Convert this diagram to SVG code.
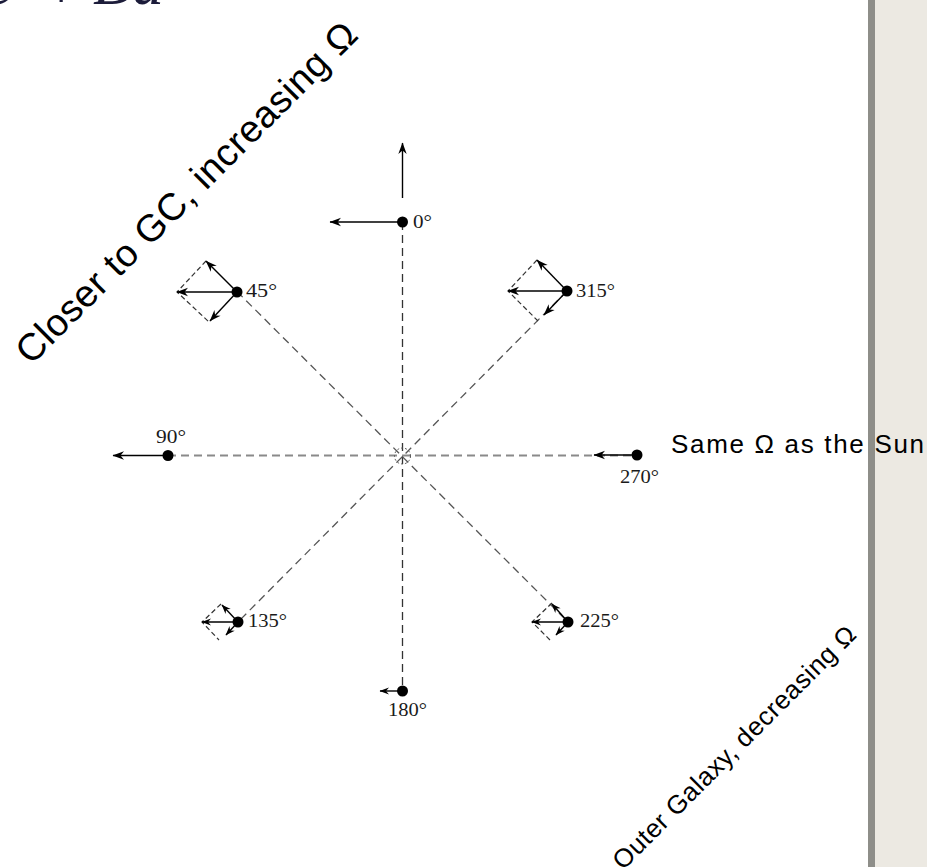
<svg xmlns="http://www.w3.org/2000/svg" width="927" height="867" viewBox="0 0 927 867">
  <defs>
    <marker id="ah" markerUnits="userSpaceOnUse" markerWidth="14" markerHeight="10" refX="0" refY="0" viewBox="-13 -5 14 10" orient="auto">
      <path d="M0.5,0 L-11,-4.2 L-7.5,0 L-11,4.2 Z" fill="#000"/>
    </marker>
    <marker id="ahs" markerUnits="userSpaceOnUse" markerWidth="12" markerHeight="9" refX="0" refY="0" viewBox="-11 -4.5 12 9" orient="auto">
      <path d="M0.5,0 L-9,-3.6 L-6,0 L-9,3.6 Z" fill="#000"/>
    </marker>
  </defs>
  <style>
    .vec { stroke: #000; stroke-width: 1.4; fill: none; marker-end: url(#ah); }
    .vecs { stroke: #000; stroke-width: 1.4; fill: none; marker-end: url(#ahs); }
    .dia { stroke: #333; stroke-width: 1.2; fill: none; stroke-dasharray: 5 3; }
    .dot { fill: #000; }
    .lab { font-family: "Liberation Serif", "Times New Roman", serif; font-size: 18px; fill: #1a1a1a; }
    .big { font-family: "Liberation Sans", Arial, sans-serif; fill: #000; }
    .axv { stroke: #333; stroke-width: 1.3; stroke-dasharray: 8 5; fill: none; }
    .axd { stroke: #555; stroke-width: 1.3; stroke-dasharray: 8 5; fill: none; }
    .axh { stroke: #8a8a8a; stroke-width: 1.8; stroke-dasharray: 8 5; fill: none; }
    .eq { font-family: "Liberation Serif", "Times New Roman", serif; font-style: italic; font-size: 64px; fill: #1c1c3a; }
  </style>

  <rect x="0" y="0" width="927" height="867" fill="#fff"/>
  <!-- right side panel -->
  <rect x="875" y="0" width="52" height="867" fill="#ece9e2"/>
  <rect x="868" y="0" width="7" height="867" fill="#8e8e89"/>

  <!-- cut-off equation at top -->
  <g id="equation">
    <text class="eq" x="-16" y="4">e</text>
    <text class="eq" x="39" y="9" font-style="normal">+</text>
    <text class="eq" x="93" y="4">Bd</text>
  </g>

  <!-- connectors -->
  <g id="connectors">
    <line class="axv" x1="402.5" y1="222" x2="402.5" y2="691"/>
    <line class="axh" x1="168" y1="455.5" x2="637" y2="455.5"/>
    <line class="axd" x1="237" y1="291.5" x2="568" y2="622"/>
    <line class="axd" x1="567" y1="291" x2="238" y2="622"/>
    <circle cx="402.5" cy="456" r="8" fill="none" stroke="#555" stroke-width="1" stroke-dasharray="2 2"/>
  </g>

  <g id="node-0">
    <line class="vec" x1="402.5" y1="198" x2="402.5" y2="143"/>
    <line class="vec" x1="402.5" y1="222" x2="330" y2="222"/>
    <circle class="dot" cx="402.5" cy="222" r="5.5"/>
    <text class="lab" x="413" y="228" textLength="19" lengthAdjust="spacingAndGlyphs">0°</text>
  </g>

  <g id="node-45">
    <polyline class="dia" points="206,261 177,292 209,322"/>
    <line class="vec" x1="237" y1="292" x2="177" y2="292"/>
    <line class="vec" x1="237" y1="292" x2="206" y2="261"/>
    <line class="vec" x1="237" y1="292" x2="210" y2="321"/>
    <circle class="dot" cx="237" cy="292" r="5.5"/>
    <text class="lab" x="246" y="297" textLength="31" lengthAdjust="spacingAndGlyphs">45°</text>
  </g>

  <g id="node-315">
    <polyline class="dia" points="537,260 508,291 538,321"/>
    <line class="vec" x1="567" y1="291" x2="508" y2="291"/>
    <line class="vec" x1="567" y1="291" x2="537" y2="260"/>
    <line class="vec" x1="567" y1="291" x2="544" y2="315"/>
    <circle class="dot" cx="567" cy="291" r="5.5"/>
    <text class="lab" x="576" y="297" textLength="39" lengthAdjust="spacingAndGlyphs">315°</text>
  </g>

  <g id="node-90">
    <line class="vec" x1="168" y1="455.5" x2="113" y2="455.5"/>
    <circle class="dot" cx="168" cy="455.5" r="5.5"/>
    <text class="lab" x="156" y="443" textLength="30" lengthAdjust="spacingAndGlyphs">90°</text>
  </g>

  <g id="node-270">
    <line class="vec" x1="637" y1="455" x2="594" y2="455"/>
    <circle class="dot" cx="637" cy="455" r="5.5"/>
    <text class="lab" x="620" y="483" textLength="39" lengthAdjust="spacingAndGlyphs">270°</text>
  </g>

  <g id="node-135">
    <polyline class="dia" points="221,604 202,622 219,640"/>
    <line class="vecs" x1="238" y1="622" x2="202" y2="622"/>
    <line class="vecs" x1="238" y1="622" x2="222" y2="605"/>
    <line class="vecs" x1="238" y1="622" x2="226" y2="635"/>
    <circle class="dot" cx="238" cy="622" r="5.5"/>
    <text class="lab" x="248" y="627" textLength="39" lengthAdjust="spacingAndGlyphs">135°</text>
  </g>

  <g id="node-225">
    <polyline class="dia" points="552,603 532,622 550,640"/>
    <line class="vecs" x1="568" y1="622" x2="532" y2="622"/>
    <line class="vecs" x1="568" y1="622" x2="552" y2="604"/>
    <line class="vecs" x1="568" y1="622" x2="556" y2="635"/>
    <circle class="dot" cx="568" cy="622" r="5.5"/>
    <text class="lab" x="580" y="627" textLength="39" lengthAdjust="spacingAndGlyphs">225°</text>
  </g>

  <g id="node-180">
    <line class="vecs" x1="402.5" y1="691" x2="380" y2="691"/>
    <circle class="dot" cx="402.5" cy="691" r="5.5"/>
    <text class="lab" x="388" y="716" textLength="39" lengthAdjust="spacingAndGlyphs">180°</text>
  </g>

  <g id="annotations">
    <text class="big" font-size="38" transform="translate(31,366) rotate(-45)" textLength="465" lengthAdjust="spacing">Closer to GC, increasing Ω</text>
    <text class="big" font-size="26" transform="translate(623,871) rotate(-45)" textLength="332" lengthAdjust="spacing">Outer Galaxy, decreasing Ω</text>
    <text class="big" font-size="26" x="671" y="453" textLength="253" lengthAdjust="spacing">Same Ω as the Sun</text>
  </g>
</svg>
